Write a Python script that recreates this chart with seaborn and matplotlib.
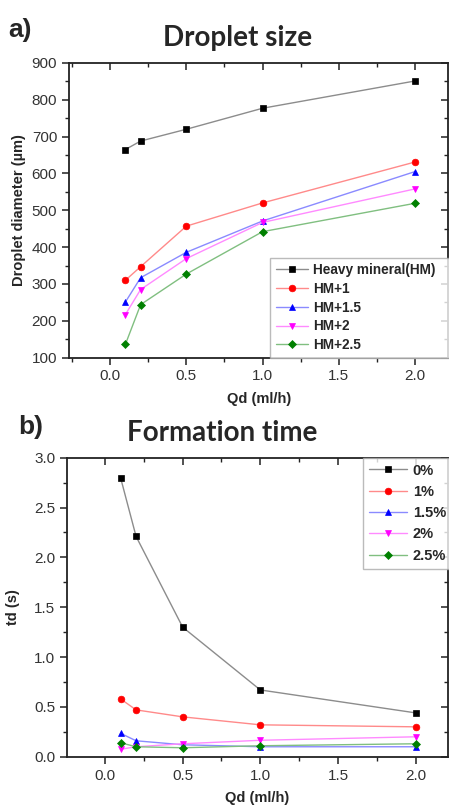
import matplotlib
matplotlib.use("Agg")
import matplotlib.pyplot as plt
from matplotlib.ticker import MultipleLocator, NullFormatter
import seaborn as sns
import pandas as pd

sns.set_style("ticks")
plt.rcParams["font.family"] = ["Liberation Sans", "DejaVu Sans"]

# Dispersed-phase flow rate (ml/h)
qd = [0.1, 0.2, 0.5, 1.0, 2.0]

# a) droplet diameter (µm)
size_labels = ["Heavy mineral(HM)", "HM+1", "HM+1.5", "HM+2", "HM+2.5"]
size_hm = [665, 688, 720, 777, 851]
size_hm1 = [310, 347, 457, 520, 631]
size_hm15 = [251, 317, 386, 471, 605]
size_hm2 = [217, 285, 369, 467, 558]
size_hm25 = [136, 244, 327, 442, 519]

# b) formation time (s)
time_labels = ["0%", "1%", "1.5%", "2%", "2.5%"]
time_0 = [2.80, 2.21, 1.30, 0.67, 0.44]
time_1 = [0.58, 0.47, 0.40, 0.32, 0.30]
time_15 = [0.235, 0.16, 0.12, 0.10, 0.10]
time_2 = [0.075, 0.10, 0.13, 0.165, 0.20]
time_25 = [0.14, 0.10, 0.09, 0.11, 0.13]

marker_colors = ["#000000", "#ff0000", "#0000ff", "#ff00ff", "#008000"]
line_colors = ["#8c8c8c", "#ff8a8a", "#8a8aff", "#ff8aff", "#80bf80"]
markers = ["s", "o", "^", "v", "D"]
msizes = [4.2, 4.8, 5.0, 5.0, 4.4]

fig = plt.figure(figsize=(4.49, 8.07), dpi=100)
ax_a = fig.add_axes([0.1537, 0.5568, 0.845, 0.3652])
ax_b = fig.add_axes([0.1492, 0.0623, 0.849, 0.3705])


def draw(ax, series, labels):
    for vals, lab, mc, lc, mk, ms in zip(series, labels, marker_colors,
                                          line_colors, markers, msizes):
        df = pd.DataFrame({"x": qd, "y": vals})
        sns.lineplot(data=df, x="x", y="y", ax=ax, estimator=None, sort=False,
                     color=lc, linewidth=1.0, marker=mk, markersize=ms,
                     markerfacecolor=mc, markeredgecolor=mc,
                     markeredgewidth=0.5, label=lab)


def style_axes(ax, ymaj, ymin):
    for sp in ax.spines.values():
        sp.set_linewidth(1.3)
        sp.set_color("#222222")
    ax.xaxis.set_major_locator(MultipleLocator(0.5))
    ax.xaxis.set_minor_locator(MultipleLocator(0.25))
    ax.yaxis.set_major_locator(MultipleLocator(ymaj))
    ax.yaxis.set_minor_locator(MultipleLocator(ymin))
    ax.tick_params(which="both", direction="out", labelsize=11,
                   labelcolor="#333333", color="#222222")
    ax.tick_params(which="major", length=5, width=1.1)
    ax.tick_params(which="minor", length=3, width=1.0)
    # mirrored ticks pointing inward on the top and right spines
    top = ax.secondary_xaxis("top")
    top.xaxis.set_major_locator(MultipleLocator(0.5))
    top.xaxis.set_minor_locator(MultipleLocator(0.25))
    top.xaxis.set_major_formatter(NullFormatter())
    top.tick_params(which="both", direction="in", color="#222222")
    top.tick_params(which="major", length=5, width=1.1)
    top.tick_params(which="minor", length=3, width=1.0)
    top.spines["top"].set_visible(False)
    right = ax.secondary_yaxis("right")
    right.yaxis.set_major_locator(MultipleLocator(ymaj))
    right.yaxis.set_minor_locator(MultipleLocator(ymin))
    right.yaxis.set_major_formatter(NullFormatter())
    right.tick_params(which="both", direction="in", color="#222222")
    right.tick_params(which="major", length=5, width=1.1)
    right.tick_params(which="minor", length=3, width=1.0)
    right.spines["right"].set_visible(False)


draw(ax_a, [size_hm, size_hm1, size_hm15, size_hm2, size_hm25], size_labels)
ax_a.set_xlim(-0.27, 2.22)
ax_a.set_ylim(100, 900)
style_axes(ax_a, 100, 50)
ax_a.set_xlabel("Qd (ml/h)", fontsize=10.5, fontweight="bold", labelpad=6)
ax_a.set_ylabel("Droplet diameter (µm)", fontsize=10.5, fontweight="bold",
                labelpad=4)
leg_a = ax_a.legend(loc="lower left", bbox_to_anchor=(0.53, 0.0, 0.5, 0.33),
                    mode="expand",
                    prop={"weight": "bold", "size": 9.8}, frameon=True,
                    fancybox=False, handlelength=2.4, labelspacing=0.35,
                    borderpad=0.4, handletextpad=0.35, borderaxespad=0.0)
leg_a.get_frame().set_edgecolor("#aaaaaa")
leg_a.get_frame().set_linewidth(1.0)

draw(ax_b, [time_0, time_1, time_15, time_2, time_25], time_labels)
ax_b.set_xlim(-0.245, 2.21)
ax_b.set_ylim(0, 3.0)
style_axes(ax_b, 0.5, 0.25)
ax_b.set_xlabel("Qd (ml/h)", fontsize=10.5, fontweight="bold", labelpad=6)
ax_b.set_ylabel("td (s)", fontsize=10.5, fontweight="bold", labelpad=10)
leg_b = ax_b.legend(loc="upper left", bbox_to_anchor=(0.777, 0.6, 0.3, 0.4),
                    mode="expand",
                    prop={"weight": "bold", "size": 10.5}, frameon=True,
                    fancybox=False, handlelength=2.6, labelspacing=0.5,
                    borderpad=0.4, handletextpad=0.4, borderaxespad=0.0)
leg_b.get_frame().set_edgecolor("#aaaaaa")
leg_b.get_frame().set_linewidth(1.0)

fig.text(8 / 449, 1 - 30 / 807, "a)", fontsize=19, fontweight="bold",
         va="center", ha="left")
fig.text(18 / 449, 1 - 427 / 807, "b)", fontsize=19, fontweight="bold",
         va="center", ha="left")
fig.text(238 / 449, 1 - 38 / 807, "Droplet size", fontsize=20,
         fontweight="bold", family=["Lato", "DejaVu Sans"], va="center",
         ha="center")
fig.text(222 / 449, 1 - 433 / 807, "Formation time", fontsize=20,
         fontweight="bold", family=["Lato", "DejaVu Sans"], va="center",
         ha="center")

fig.savefig("out.png", dpi=100)
